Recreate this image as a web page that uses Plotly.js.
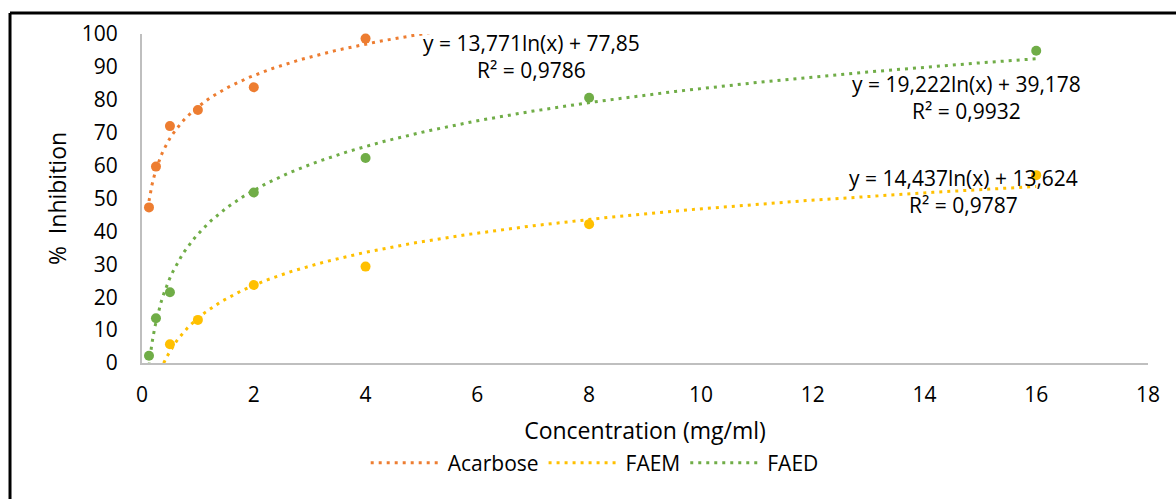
<!DOCTYPE html>
<html>
<head>
<meta charset="utf-8">
<script src="https://cdn.plot.ly/plotly-3.0.1.min.js"></script>
<style>html,body{margin:0;padding:0;background:#fff;}#chart{width:1176px;height:499px;}</style>
</head>
<body>
<div id="chart"></div>
<script>
// Data
const seriesNames = ["Acarbose", "FAEM", "FAED"];
const acarboseX = [0.125, 0.25, 0.5, 1, 2, 4];
const acarboseY = [47.3, 59.7, 72.0, 76.9, 83.8, 98.6];
const faemX = [0.5, 1, 2, 4, 8, 16];
const faemY = [5.7, 13.1, 23.7, 29.3, 42.2, 57.1];
const faedX = [0.125, 0.25, 0.5, 2, 4, 8, 16];
const faedY = [2.2, 13.6, 21.5, 51.8, 62.3, 80.6, 94.9];
// Logarithmic trendline coefficients shown on the chart: y = a*ln(x) + b
const trendA = [13.771, 77.85];
const trendM = [14.437, 13.624];
const trendD = [19.222, 39.178];
const eqLabels = ["y = 13,771ln(x) + 77,85<br>R² = 0,9786",
                  "y = 14,437ln(x) + 13,624<br>R² = 0,9787",
                  "y = 19,222ln(x) + 39,178<br>R² = 0,9932"];
const xTicks = [0, 2, 4, 6, 8, 10, 12, 14, 16, 18];
const yTicks = [0, 10, 20, 30, 40, 50, 60, 70, 80, 90, 100];

const colors = ["#ED7D31", "#FFC000", "#70AD47"];
const FONT = "'Open Sans', sans-serif";

function trend(coef, x0, x1) {
  const xs = [], ys = [];
  const n = 300;
  for (let i = 0; i <= n; i++) {
    const x = x0 + (x1 - x0) * i / n;
    xs.push(x); ys.push(coef[0] * Math.log(x) + coef[1]);
  }
  return {x: xs, y: ys};
}

const dataSets = [
  {x: acarboseX, y: acarboseY, c: trendA, r: [0.125, 16]},
  {x: faemX, y: faemY, c: trendM, r: [0.125, 16]},
  {x: faedX, y: faedY, c: trendD, r: [0.125, 16]}
];

const traces = [];
dataSets.forEach((d, i) => {
  const t = trend(d.c, d.r[0], d.r[1]);
  traces.push({
    x: t.x, y: t.y, type: "scatter", mode: "lines", name: seriesNames[i],
    line: {color: colors[i], width: 3, dash: "3px,5px"}, hoverinfo: "skip", showlegend: true
  });
});
dataSets.forEach((d, i) => {
  traces.push({
    x: d.x, y: d.y, type: "scatter", mode: "markers", name: seriesNames[i] + " data",
    marker: {color: colors[i], size: 10}, showlegend: false, cliponaxis: false
  });
});

const layout = {
  width: 1176, height: 499,
  margin: {l: 142, r: 28, t: 34, b: 136},
  paper_bgcolor: "#fff", plot_bgcolor: "#fff",
  font: {family: FONT, size: 21, color: "#000"},
  showlegend: true,
  legend: {orientation: "h", x: 0.450, xanchor: "center", y: -0.304, yanchor: "middle",
           font: {family: FONT, size: 21, color: "#000"}, itemwidth: 72, traceorder: "normal"},
  xaxis: {range: [0, 18], tickvals: xTicks, ticktext: xTicks.map(String), showgrid: false, zeroline: false,
          showline: true, linecolor: "#BFBFBF", linewidth: 2, ticks: "", ticklabelstandoff: 12,
          tickfont: {family: FONT, size: 21},
          title: {text: "Concentration (mg/ml)", font: {family: FONT, size: 23}, standoff: 16}},
  yaxis: {range: [0, 100], tickvals: yTicks, ticktext: yTicks.map(String), showgrid: false, zeroline: false,
          showline: true, linecolor: "#BFBFBF", linewidth: 2, ticks: "", ticklabelstandoff: 18,
          tickfont: {family: FONT, size: 21},
          title: {text: "%  Inhibition", font: {family: FONT, size: 23}, standoff: 9}},
  annotations: [
    {x: 6.97, y: 93.1, xref: "x", yref: "y", text: eqLabels[0], showarrow: false, align: "center",
     font: {family: FONT, size: 21, color: "#000"}},
    {x: 14.69, y: 52.1, xref: "x", yref: "y", text: eqLabels[1], showarrow: false, align: "center",
     font: {family: FONT, size: 21, color: "#000"}},
    {x: 14.75, y: 80.7, xref: "x", yref: "y", text: eqLabels[2], showarrow: false, align: "center",
     font: {family: FONT, size: 21, color: "#000"}}
  ],
  shapes: [
    {type: "line", xref: "paper", yref: "paper", x0: -0.1312, x1: 1.1, y0: 1.0638, y1: 1.0638,
     line: {color: "#000", width: 3}},
    {type: "line", xref: "paper", yref: "paper", x0: -0.1312, x1: -0.1312, y0: -0.5, y1: 1.0638,
     line: {color: "#000", width: 3}}
  ]
};

Plotly.newPlot("chart", traces, layout, {staticPlot: true, displayModeBar: false});
</script>
</body>
</html>
